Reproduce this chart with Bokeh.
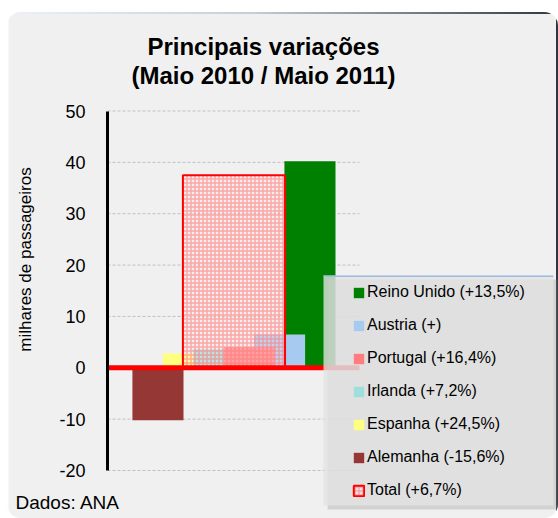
import math
from bokeh.plotting import figure
from bokeh.models import (Range1d, FixedTicker, Label, BoxAnnotation, Legend, LegendItem,
                          Title, PrintfTickFormatter, LinearAxis)
from bokeh.embed import file_html
from bokeh.resources import INLINE

# ---- data ----
countries = ["Alemanha", "Espanha", "Irlanda", "Portugal", "Austria", "Reino Unido"]
variation = [-10.2, 2.8, 3.6, 4.0, 6.5, 40.2]   # milhares de passageiros
legend_labels = ["Alemanha (-15,6%)", "Espanha (+24,5%)", "Irlanda (+7,2%)",
                 "Portugal (+16,4%)", "Austria (+)", "Reino Unido (+13,5%)"]
colors = ["#953735", "#ffff80", "#a0dede", "#ff7c80", "#a6caf0", "#008000"]
total_value = 37.5
total_label = "Total (+6,7%)"
y_ticks = [-20, -10, 0, 10, 20, 30, 40, 50]
draw_order = ["Reino Unido", "Austria", "Espanha", "Irlanda", "Portugal", "Alemanha"]
legend_order = ["Reino Unido", "Austria", "Portugal", "Irlanda", "Espanha", "Alemanha"]
title_lines = ["Principais variações", "(Maio 2010 / Maio 2011)"]
y_label = "milhares de passageiros"
source_text = "Dados: ANA"

FONT = "Liberation Sans"
W, H = 558, 518

# ---- layout (pixels on the canvas) ----
FL, FB = 107, 518                # frame left / frame bottom
AX_TOP, AX_BOT = 110.5, 470      # where 50 and -20 sit
PX_Y = (AX_BOT - AX_TOP) / (max(y_ticks) - min(y_ticks))
STEP_PX = 30.4                   # px per category step
X_START = -1.66
PLOT_END = 6.63                  # right end of gridlines / zero line
BAR_W = 1.68
YLABEL_CENTER_PX = 230           # vertical centre of the y axis title

y_end = max(y_ticks) + AX_TOP / PX_Y
y_start = min(y_ticks) - (FB - AX_BOT) / PX_Y
x_end = X_START + (W - FL) / STEP_PX
ylabel_mid = y_end - YLABEL_CENTER_PX / PX_Y

p = figure(width=W, height=H, output_backend="svg", toolbar_location=None,
           x_range=Range1d(X_START, x_end), y_range=Range1d(y_start, y_end),
           min_border_left=FL, min_border_right=0, min_border_top=0, min_border_bottom=0)
p.title.visible = False
p.outline_line_color = None
p.background_fill_alpha = 0
p.border_fill_alpha = 0
p.styles = {
    "background-color": "#f0f0f0",
    "background-image": ("linear-gradient(to right, #eef2f8, #c4cedc 45%, #30363e), "
                         "linear-gradient(#30363e, #30363e), "
                         "linear-gradient(#ffffff, #ffffff)"),
    "background-size": "100% 2px, 2px 100%, 1.5px 100%",
    "background-position": "0 12px, 100% 0, 7px 0",
    "background-repeat": "no-repeat",
    "clip-path": "inset(12px 0px 0px 7px round 14px)",
}

p.xaxis.visible = False
p.xgrid.visible = False
p.ygrid.visible = False

ax = p.yaxis[0]
ax.ticker = FixedTicker(ticks=y_ticks)
ax.bounds = (min(y_ticks), max(y_ticks))
ax.formatter = PrintfTickFormatter(format="%d")
ax.axis_line_color = "black"
ax.axis_line_width = 3
ax.major_tick_line_color = None
ax.minor_tick_line_color = None
ax.major_label_text_font = FONT
ax.major_label_text_font_size = "18px"
ax.major_label_text_color = "black"
ax.major_label_standoff = 16

# second (label-only) axis carrying the y axis title
lab_ax = LinearAxis(ticker=FixedTicker(ticks=[]),
                    bounds=(ylabel_mid - 5, ylabel_mid + 5),
                    axis_line_color=None, major_tick_line_color=None, minor_tick_line_color=None,
                    major_label_standoff=0, major_label_text_font_size="0px",
                    axis_label=y_label, axis_label_standoff=22,
                    axis_label_text_font=FONT, axis_label_text_font_size="17px",
                    axis_label_text_font_style="normal", axis_label_text_color="black")
p.add_layout(lab_ax, "left")

# dashed gridlines only over the plotting part
p.segment(x0=X_START, x1=PLOT_END, y0=y_ticks, y1=y_ticks,
          line_color="#c0c0c0", line_width=1, line_dash="3 2")

renderers = {}
for name in draw_order:
    i = countries.index(name)
    r = p.vbar(x=i, top=variation[i], bottom=0, width=BAR_W,
               fill_color=colors[i], line_color=None)
    renderers[name] = r

total_x = (countries.index("Irlanda") + countries.index("Portugal")) / 2
r_total = p.vbar(x=total_x, top=total_value, bottom=0, width=2 * BAR_W,
                 fill_color="#ffe8e8", fill_alpha=0.35,
                 hatch_pattern="+", hatch_color="#ff7070", hatch_alpha=0.55,
                 hatch_scale=4, hatch_weight=1.5,
                 line_color="red", line_width=2)

# zero line
p.segment(x0=[X_START], x1=[PLOT_END], y0=[0], y1=[0], line_color="red", line_width=5)

# legend background, top edge + shadow
def canvas_box(**kw):
    return BoxAnnotation(left_units="canvas", right_units="canvas",
                         top_units="canvas", bottom_units="canvas", **kw)

p.add_layout(canvas_box(left=327, right=557, top=279, bottom=509,
                        fill_color="#909090", fill_alpha=0.3, line_color=None))
p.add_layout(canvas_box(left=323, right=553, top=275, bottom=505,
                        fill_color="#e4e4e4", fill_alpha=0.8, line_color=None))
p.add_layout(canvas_box(left=323, right=553, top=275, bottom=276.5,
                        fill_color="#9ebbe4", fill_alpha=1, line_color=None))

items = []
for name in legend_order:
    i = countries.index(name)
    items.append(LegendItem(label=legend_labels[i], renderers=[renderers[name]]))
items.append(LegendItem(label=total_label, renderers=[r_total]))
legend = Legend(items=items, location=(235, 8), padding=10, spacing=13, margin=0,
                label_height=20, glyph_height=13, glyph_width=13, label_standoff=2,
                background_fill_alpha=0, border_line_alpha=0,
                label_text_font=FONT, label_text_font_size="16px", label_text_color="black")
p.add_layout(legend)

for txt, yy in zip(title_lines, [45.5, 75]):
    p.add_layout(Label(x=263, y=yy, x_units="canvas", y_units="canvas", text=txt,
                       text_align="center", text_baseline="alphabetic",
                       text_font=FONT, text_font_style="bold", text_font_size="24px",
                       text_color="black"))

p.add_layout(Title(text=source_text, align="left", offset=-92, standoff=-54,
                   vertical_align="top",
                   text_font=FONT, text_font_size="19px", text_font_style="normal",
                   text_color="black"), "below")

open("out.html", "w").write(file_html(p, INLINE))
